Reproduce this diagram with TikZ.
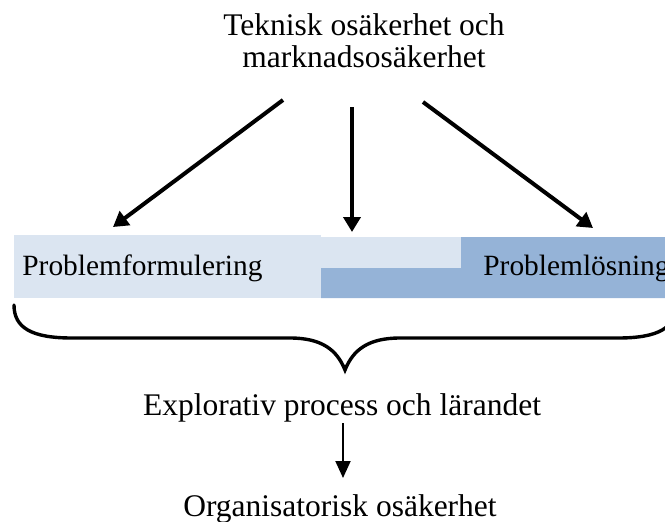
\documentclass[tikz,border=0pt]{standalone}
\usepackage{fontspec}
\setmainfont{Liberation Serif}
\usetikzlibrary{arrows.meta}
\definecolor{lightbar}{HTML}{DBE5F1}
\definecolor{darkbar}{HTML}{95B3D7}
\begin{document}
\begin{tikzpicture}[x=0.5pt,y=-0.5pt,
  bigtext/.style={font=\fontsize{15.75}{16}\selectfont, inner sep=0pt},
  bartext/.style={font=\fontsize{14.7}{16}\selectfont, inner sep=0pt, anchor=base west},
  thickarrow/.style={line width=2pt, -{Triangle[length=7.5pt,width=8.5pt]}},
  thinarrow/.style={line width=1pt, -{Triangle[length=8.5pt,width=7.5pt]}},
  bracestyle/.style={line width=1.7pt, line cap=round}]
\useasboundingbox (0,0) rectangle (665,521);
\clip (0,0) rectangle (665,521);
% bars
\fill[lightbar] (14,235) rectangle (321,298);
\fill[lightbar] (321,237) rectangle (461,268);
\fill[darkbar] (321,268) -- (461,268) -- (461,237) -- (690,237) -- (690,298) -- (321,298) -- cycle;
\node[bartext] (pf) at (22,275) {Problemformulering};
\node[bartext] (pl) at (483,275) {Problemlösning};
% top text
\node[bigtext, align=center, anchor=north] (top) at (364,13) {Teknisk osäkerhet och\\marknadsosäkerhet};
\coordinate (l0) at (283,100);
\coordinate (l1) at (113,227);
\coordinate (m0) at (352,107);
\coordinate (m1) at (352,232);
\coordinate (r0) at (423,102);
\coordinate (r1) at (593,228);
\draw[thickarrow] (l0) -- (l1);
\draw[thickarrow] (m0) -- (m1);
\draw[thickarrow] (r0) -- (r1);
% brace
\draw[bracestyle] (14,305) .. controls (14,328) and (32,338) .. (72,338)
  -- (290,338) .. controls (322,338) and (337,350) .. (345,370)
  .. controls (353,350) and (368,338) .. (400,338)
  -- (618,338) .. controls (658,338) and (676,328) .. (676,305);
% bottom
\node[bigtext, anchor=base] (expl) at (342,415) {Explorativ process och lärandet};
\node[bigtext, anchor=base] (org) at (340,516) {Organisatorisk osäkerhet};
\coordinate (b0) at (343,423);
\coordinate (b1) at (343,478);
\draw[thinarrow] (b0) -- (b1);
\end{tikzpicture}
\end{document}
